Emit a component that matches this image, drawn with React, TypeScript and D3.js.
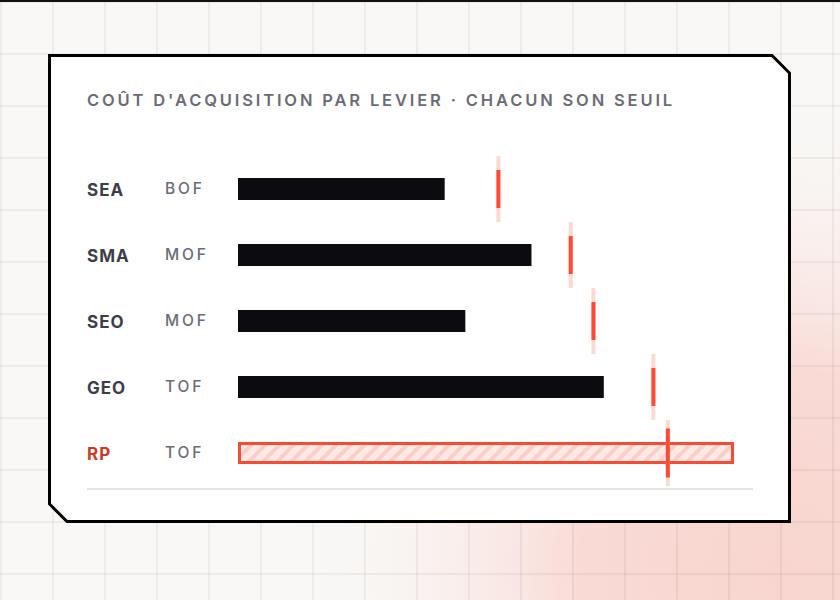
import React, { useEffect, useRef } from 'react';
import * as d3 from 'd3';

const levers = ['SEA', 'SMA', 'SEO', 'GEO', 'RP'];
const stages = ['BOF', 'MOF', 'MOF', 'TOF', 'TOF'];
const costs = [50, 71, 55, 88.5, 120];
const thresholds = [63, 80.5, 86, 100.5, 104];
const highlighted = 'RP';

const W = 840;
const H = 600;

const App: React.FC = () => {
  const ref = useRef<SVGSVGElement>(null);

  useEffect(() => {
    const svg = d3.select(ref.current);
    svg.selectAll('*').remove();

    const defs = svg.append('defs');
    const glow = defs.append('radialGradient')
      .attr('id', 'glow')
      .attr('gradientUnits', 'userSpaceOnUse')
      .attr('cx', 780).attr('cy', 570).attr('r', 490);
    glow.append('stop').attr('offset', '0%').attr('stop-color', '#f8d5cf').attr('stop-opacity', 1);
    glow.append('stop').attr('offset', '40%').attr('stop-color', '#f9dad5').attr('stop-opacity', 1);
    glow.append('stop').attr('offset', '100%').attr('stop-color', '#f9f8f6').attr('stop-opacity', 0);

    const hatch = defs.append('pattern')
      .attr('id', 'hatch')
      .attr('patternUnits', 'userSpaceOnUse')
      .attr('width', 10).attr('height', 10)
      .attr('patternTransform', 'rotate(45)');
    hatch.append('rect').attr('width', 10).attr('height', 10).attr('fill', '#fdeae7');
    hatch.append('rect').attr('width', 4).attr('height', 10).attr('fill', '#fbcfc7');

    // background
    svg.append('rect').attr('width', W).attr('height', H).attr('fill', '#f9f8f6');
    svg.append('rect').attr('width', W).attr('height', H).attr('fill', 'url(#glow)');

    const grid = svg.append('g').attr('stroke', 'rgba(70,40,30,0.06)').attr('stroke-width', 2);
    d3.range(1, W + 1, 52).forEach(x => {
      grid.append('line').attr('x1', x).attr('x2', x).attr('y1', 0).attr('y2', H);
    });
    d3.range(2, H + 1, 52).forEach(y => {
      grid.append('line').attr('x1', 0).attr('x2', W).attr('y1', y).attr('y2', y);
    });
    svg.append('rect').attr('width', W).attr('height', 2).attr('fill', '#111');

    // card
    const L = 49.5, T = 55.5, R = 789.5, B = 521.5, cut = 17.5;
    svg.append('path')
      .attr('d', `M${L},${T}H${R - cut}L${R},${T + cut}V${B}H${L + cut}L${L},${B - cut}Z`)
      .attr('fill', '#fff')
      .attr('stroke', '#000')
      .attr('stroke-width', 3);

    svg.append('text')
      .attr('x', 87).attr('y', 106)
      .attr('font-family', 'Inter, sans-serif')
      .attr('font-size', 16.5)
      .attr('font-weight', 600)
      .attr('letter-spacing', 2.85)
      .attr('fill', '#6b6b78')
      .text("COÛT D'ACQUISITION PAR LEVIER · CHACUN SON SEUIL");

    const x = d3.scaleLinear().domain([0, 120]).range([238, 734]);
    const y = d3.scaleBand().domain(levers).range([156, 486]);
    const barH = 22;

    const rows = svg.append('g').selectAll('g')
      .data(levers)
      .enter()
      .append('g')
      .attr('transform', d => `translate(0,${(y(d) as number) + y.bandwidth() / 2})`);

    rows.append('text')
      .attr('x', 87).attr('y', 7)
      .attr('font-family', 'Inter, sans-serif')
      .attr('font-size', 17)
      .attr('font-weight', 700)
      .attr('letter-spacing', 1)
      .attr('fill', d => d === highlighted ? '#c93b26' : '#3d3d4a')
      .text(d => d);

    rows.append('text')
      .attr('x', 165).attr('y', 5)
      .attr('font-family', 'Inter, sans-serif')
      .attr('font-size', 15.5)
      .attr('font-weight', 500)
      .attr('letter-spacing', 2.8)
      .attr('fill', '#6b6b7a')
      .text((d, i) => stages[i]);

    rows.append('rect')
      .attr('x', (d, i) => d === highlighted ? x(0) + 1.5 : x(0))
      .attr('y', (d) => d === highlighted ? -barH / 2 + 1.5 : -barH / 2)
      .attr('width', (d, i) => d === highlighted ? x(costs[i]) - x(0) - 3 : x(costs[i]) - x(0))
      .attr('height', d => d === highlighted ? barH - 3 : barH)
      .attr('fill', d => d === highlighted ? 'url(#hatch)' : '#0b0b10')
      .attr('stroke', d => d === highlighted ? '#f44d36' : 'none')
      .attr('stroke-width', 3);

    rows.append('rect')
      .attr('x', (d, i) => x(thresholds[i]) - 2)
      .attr('y', -y.bandwidth() / 2)
      .attr('width', 4)
      .attr('height', y.bandwidth())
      .attr('fill', '#fdd9d3');

    rows.append('rect')
      .attr('x', (d, i) => x(thresholds[i]) - 2)
      .attr('y', d => d === highlighted ? -24.5 : -19)
      .attr('width', 4)
      .attr('height', d => d === highlighted ? 49 : 38)
      .attr('fill', '#ff4b36');

    svg.append('line')
      .attr('x1', 87).attr('x2', 753)
      .attr('y1', 489).attr('y2', 489)
      .attr('stroke', '#e3e3e3')
      .attr('stroke-width', 2);
  }, []);

  return (
    <svg ref={ref} width={W} height={H}
      style={{ position: 'absolute', top: 0, left: 0, display: 'block' }} />
  );
};

export default App;
